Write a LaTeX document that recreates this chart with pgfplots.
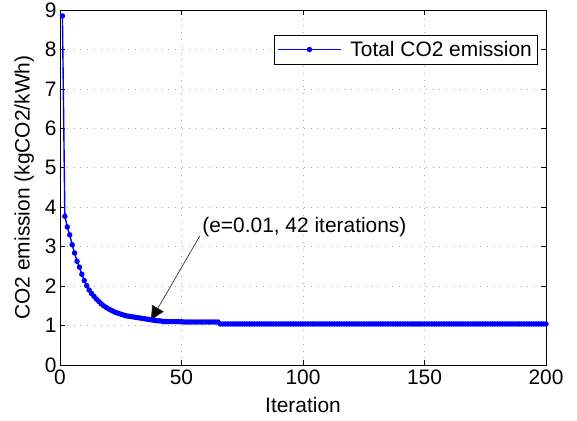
\documentclass[border=0pt]{standalone}
\usepackage{fontspec}
\setmainfont{Liberation Sans}
\usepackage{pgfplots}
\pgfplotsset{compat=1.18}
\usetikzlibrary{arrows.meta}

\newcommand{\chartfont}{\fontsize{21}{25}\selectfont}

\begin{document}
\begin{tikzpicture}
\begin{axis}[
    scale only axis,
    width=486bp, height=355bp,
    xmin=0, xmax=200, ymin=0, ymax=9,
    xtick={0,50,100,150,200},
    ytick={0,1,2,3,4,5,6,7,8,9},
    font=\chartfont,
    /pgf/number format/assume math mode=true,
    tick label style={font=\chartfont},
    xticklabel style={yshift=-1bp},
    xlabel={Iteration},
    ylabel={CO2 emission (kgCO2/kWh)},
    xlabel style={yshift=-6bp},
    ylabel style={yshift=4bp},
    grid=major,
    grid style={gray!70, line width=0.6pt, dash pattern=on 0.8pt off 6pt},
    axis line style={black, line width=0.6pt},
    major tick length=5bp,
    tick style={black, line width=0.6pt},
    legend style={at={(1,1)}, anchor=north east, xshift=-9bp, yshift=-25bp,
        font=\chartfont, inner xsep=3pt, inner ysep=4pt},
    legend image code/.code={
        \draw[mark repeat=2, mark phase=2]
            plot coordinates {(0cm,0cm) (1.1cm,0cm) (2.2cm,0cm)};
        \path (2.45cm,0cm);
    },
]
\addplot[blue, line width=1.4pt, mark=*, mark size=2pt, mark options={solid}] coordinates {
(1,8.85)(2,3.77)(3,3.50)(4,3.30)(5,3.05)(6,2.84)(7,2.63)(8,2.48)(9,2.30)(10,2.14)
(11,2.01)(12,1.90)(13,1.81)(14,1.74)(15,1.67)(16,1.61)(17,1.55)(18,1.50)(19,1.46)(20,1.42)
(21,1.39)(22,1.36)(23,1.33)(24,1.31)(25,1.29)(26,1.27)(27,1.25)(28,1.24)(29,1.23)(30,1.22)
(31,1.21)(32,1.20)(33,1.19)(34,1.18)(35,1.17)(36,1.16)(37,1.15)(38,1.14)(39,1.13)(40,1.12)
(41,1.12)(42,1.11)(43,1.10)(44,1.10)(45,1.10)(46,1.10)(47,1.10)(48,1.10)(49,1.10)(50,1.10)
(51,1.09)(52,1.09)(53,1.09)(54,1.09)(55,1.09)(56,1.09)(57,1.09)(58,1.09)(59,1.09)(60,1.09)
(61,1.09)(62,1.09)(63,1.09)(64,1.09)(65,1.09)(66,1.04)(67,1.04)(68,1.04)(69,1.04)(70,1.04)
(71,1.04)(72,1.04)(73,1.04)(74,1.04)(75,1.04)(76,1.04)(77,1.04)(78,1.04)(79,1.04)(80,1.04)
(81,1.04)(82,1.04)(83,1.04)(84,1.04)(85,1.04)(86,1.04)(87,1.04)(88,1.04)(89,1.04)(90,1.04)
(91,1.04)(92,1.04)(93,1.04)(94,1.04)(95,1.04)(96,1.04)(97,1.04)(98,1.04)(99,1.04)(100,1.04)
(101,1.04)(102,1.04)(103,1.04)(104,1.04)(105,1.04)(106,1.04)(107,1.04)(108,1.04)(109,1.04)(110,1.04)
(111,1.04)(112,1.04)(113,1.04)(114,1.04)(115,1.04)(116,1.04)(117,1.04)(118,1.04)(119,1.04)(120,1.04)
(121,1.04)(122,1.04)(123,1.04)(124,1.04)(125,1.04)(126,1.04)(127,1.04)(128,1.04)(129,1.04)(130,1.04)
(131,1.04)(132,1.04)(133,1.04)(134,1.04)(135,1.04)(136,1.04)(137,1.04)(138,1.04)(139,1.04)(140,1.04)
(141,1.04)(142,1.04)(143,1.04)(144,1.04)(145,1.04)(146,1.04)(147,1.04)(148,1.04)(149,1.04)(150,1.04)
(151,1.04)(152,1.04)(153,1.04)(154,1.04)(155,1.04)(156,1.04)(157,1.04)(158,1.04)(159,1.04)(160,1.04)
(161,1.04)(162,1.04)(163,1.04)(164,1.04)(165,1.04)(166,1.04)(167,1.04)(168,1.04)(169,1.04)(170,1.04)
(171,1.04)(172,1.04)(173,1.04)(174,1.04)(175,1.04)(176,1.04)(177,1.04)(178,1.04)(179,1.04)(180,1.04)
(181,1.04)(182,1.04)(183,1.04)(184,1.04)(185,1.04)(186,1.04)(187,1.04)(188,1.04)(189,1.04)(190,1.04)
(191,1.04)(192,1.04)(193,1.04)(194,1.04)(195,1.04)(196,1.04)(197,1.04)(198,1.04)(199,1.04)(200,1.04)
};
\addlegendentry{Total CO2 emission}
% annotation
\draw[black!80, line width=0.7pt, -{Latex[length=16bp, width=14bp, fill=black]}]
    (axis cs:57.5,3.27) -- (axis cs:37,1.09);
\node[anchor=west, inner sep=0pt, font=\chartfont] at (axis cs:58.5,3.5) {(e=0.01, 42 iterations)};
\end{axis}
\pgfresetboundingbox
\path[use as bounding box] (-60bp,-56bp) rectangle (517bp,365bp);
\end{tikzpicture}
\end{document}
